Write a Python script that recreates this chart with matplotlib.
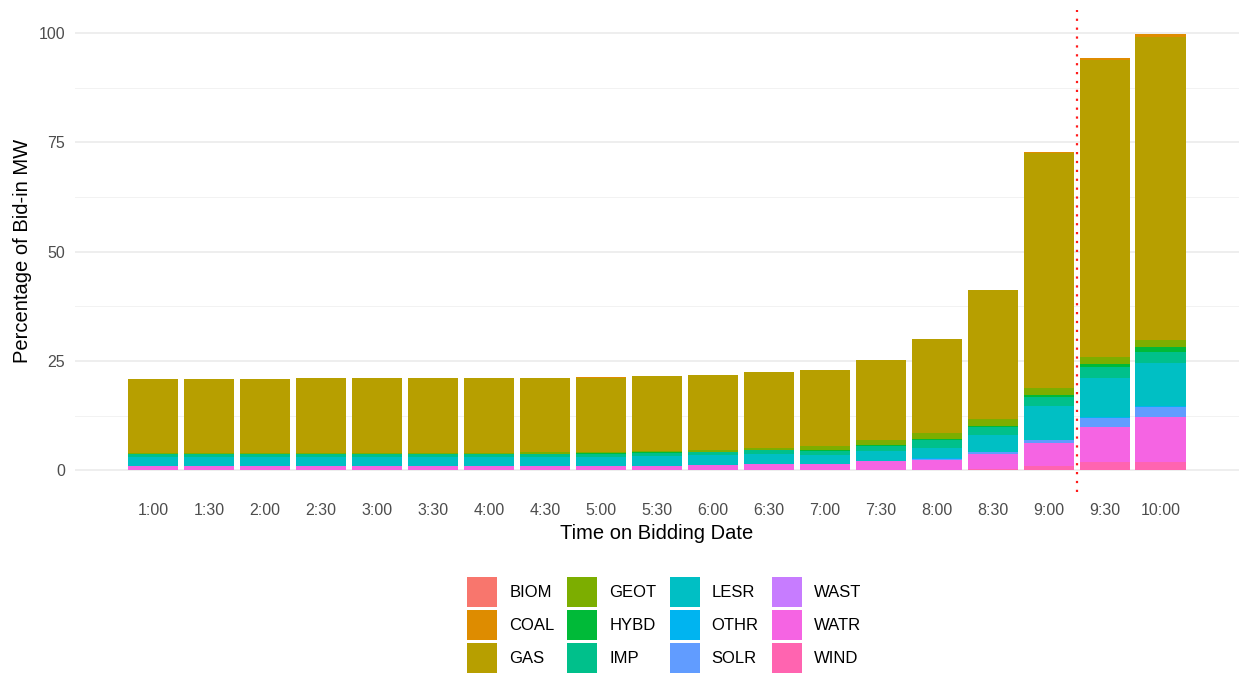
import numpy as np
import matplotlib.pyplot as plt
from matplotlib.patches import Patch

plt.rcParams['font.family'] = ['Liberation Sans', 'DejaVu Sans']

# Bidding times (x categories)
times = ["1:00", "1:30", "2:00", "2:30", "3:00", "3:30", "4:00", "4:30", "5:00", "5:30",
         "6:00", "6:30", "7:00", "7:30", "8:00", "8:30", "9:00", "9:30", "10:00"]

# Fuel types, ggplot stacking order (first on top)
fuels = ["BIOM", "COAL", "GAS", "GEOT", "HYBD", "IMP", "LESR", "OTHR", "SOLR", "WAST", "WATR", "WIND"]
colors = ["#F8766D", "#DE8C00", "#B79F00", "#7CAE00", "#00BA38", "#00C08B",
          "#00BFC4", "#00B4F0", "#619CFF", "#C77CFF", "#F564E3", "#FF64B0"]

# Percentage of bid-in MW per fuel at each time
biom = [0.0] * 19
coal = [0.03, 0.03, 0.05, 0.08, 0.08, 0.08, 0.08, 0.08, 0.05, 0.05, 0.05, 0.05, 0.05, 0.05, 0.05, 0.1, 0.3, 0.6, 0.7]
gas = [16.8, 16.8, 16.9, 17.0, 17.0, 17.0, 17.0, 17.0, 17.0, 17.1, 17.3, 17.5, 17.4, 18.2, 21.6, 29.5, 53.7, 67.8, 69.5]
geot = [0.3, 0.3, 0.3, 0.3, 0.3, 0.3, 0.3, 0.3, 0.3, 0.3, 0.3, 0.3, 1.0, 1.1, 1.2, 1.5, 1.7, 1.7, 1.6]
hybd = [0.1, 0.1, 0.1, 0.1, 0.1, 0.1, 0.1, 0.1, 0.1, 0.1, 0.1, 0.1, 0.2, 0.2, 0.4, 0.4, 0.4, 0.8, 1.1]
imp = [0.7, 0.7, 0.7, 0.7, 0.7, 0.7, 0.7, 0.7, 0.7, 0.7, 0.6, 0.8, 0.8, 1.2, 1.7, 1.8, 2.1, 2.4, 2.5]
lesr = [2.0, 2.0, 2.0, 2.0, 2.0, 2.0, 2.0, 2.0, 2.1, 2.2, 2.3, 2.3, 2.0, 2.3, 2.4, 3.8, 7.6, 9.0, 9.9]
othr = [0.0, 0.0, 0.0, 0.0, 0.0, 0.0, 0.0, 0.0, 0.0, 0.0, 0.0, 0.0, 0.0, 0.0, 0.1, 0.1, 0.1, 0.1, 0.1]
solr = [0.05, 0.05, 0.05, 0.05, 0.05, 0.05, 0.05, 0.05, 0.05, 0.05, 0.05, 0.05, 0.1, 0.1, 0.2, 0.3, 0.8, 2.2, 2.3]
wast = [0.0] * 19
watr = [0.85, 0.85, 0.85, 0.85, 0.85, 0.85, 0.85, 0.95, 0.95, 1.0, 1.15, 1.4, 1.4, 2.0, 2.4, 3.6, 5.2, 8.0, 10.3]
wind = [0.0] * 15 + [0.2, 0.9, 1.8, 1.9]

series = [biom, coal, gas, geot, hybd, imp, lesr, othr, solr, wast, watr, wind]

fig = plt.figure(figsize=(12.39, 6.73), dpi=100)
ax = fig.add_axes([0.0605, 0.269, 0.9395, 0.716])

x = np.arange(len(times))
bottom = np.zeros(len(times))
# stack from the bottom (WIND) upwards so BIOM ends on top
for name, col, vals in reversed(list(zip(fuels, colors, series))):
    vals = np.array(vals)
    ax.bar(x, vals, width=0.9, bottom=bottom, color=col, linewidth=0)
    bottom += vals

# cutoff marker between 9:00 and 9:30
ax.axvline(16.5, color="#FF1A1A", linestyle=(0, (1, 3.0)), linewidth=1.6, zorder=3)

ax.set_xlim(-1.4, 19.4)
ax.set_ylim(-5, 105.3)
ax.set_xticks(x)
ax.set_xticklabels(times)
ax.set_yticks([0, 25, 50, 75, 100])
ax.set_yticks([12.5, 37.5, 62.5, 87.5], minor=True)
ax.grid(axis="y", which="major", color="#EBEBEB", linewidth=1.2, zorder=0)
ax.grid(axis="y", which="minor", color="#F2F2F2", linewidth=0.7, zorder=0)
ax.set_axisbelow(True)
for s in ax.spines.values():
    s.set_visible(False)
ax.tick_params(axis="both", which="both", length=0, labelsize=11.5, colors="#4D4D4D")
ax.tick_params(axis="x", pad=8)
ax.tick_params(axis="y", pad=7)
ax.set_xlabel("Time on Bidding Date", fontsize=14.5, labelpad=4)
ax.set_ylabel("Percentage of Bid-in MW", fontsize=14.5, labelpad=5)

handles = [Patch(facecolor=c, edgecolor="none") for c in colors]
fig.legend(handles, fuels, ncol=4, loc="upper center", bbox_to_anchor=(0.536, 0.1545),
           frameon=False, fontsize=12, handlelength=1.8, handleheight=2.39,
           labelspacing=0.18, handletextpad=0.72, columnspacing=0.78, borderpad=0)

fig.savefig("out.png", dpi=100)
